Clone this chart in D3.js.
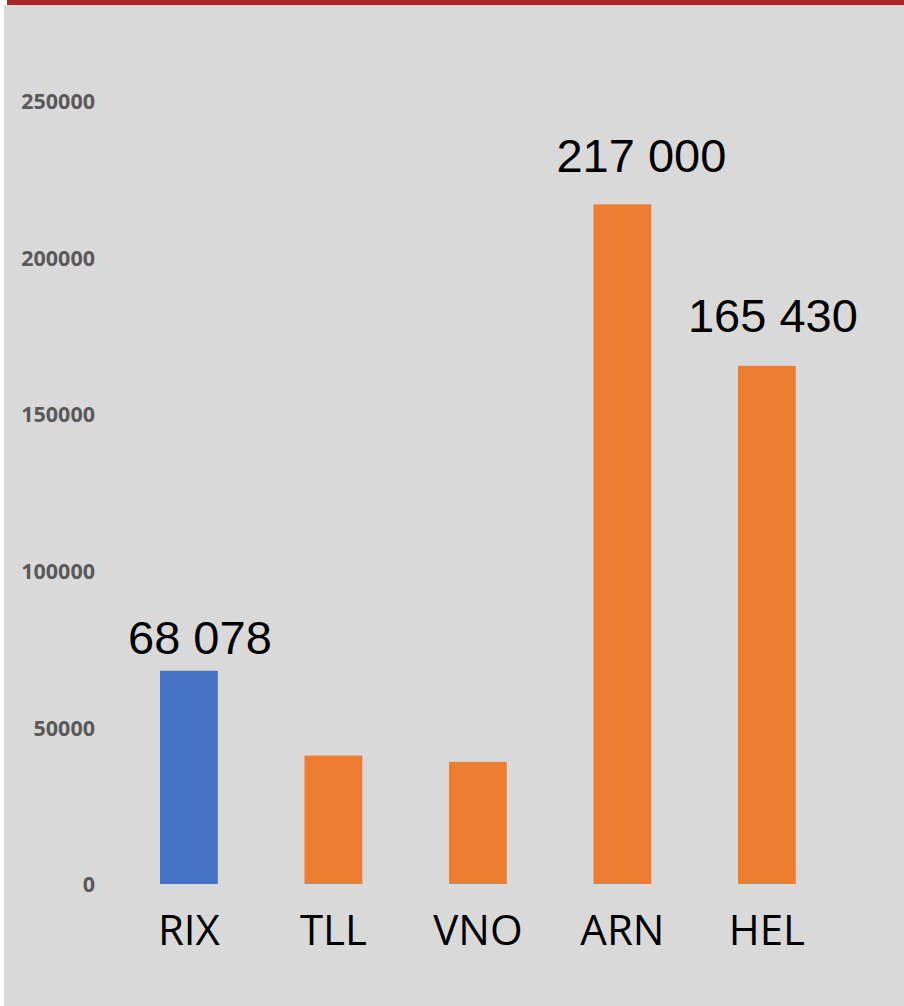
<!DOCTYPE html>
<html>
<head>
<meta charset="utf-8">
<script src="https://cdn.jsdelivr.net/npm/d3@7"></script>
<style>
  html, body { margin: 0; padding: 0; background: #ffffff; }
  svg { display: block; }
</style>
</head>
<body>
<svg id="chart" width="904" height="1006"></svg>
<script>
const categories = ["RIX", "TLL", "VNO", "ARN", "HEL"];
const values = [68078, 41000, 39000, 217000, 165430];
const valueLabels = ["68 078", "", "", "217 000", "165 430"];
const tickValues = [0, 50000, 100000, 150000, 200000, 250000];
const barColors = ["#4472c4", "#ed7d31", "#ed7d31", "#ed7d31", "#ed7d31"];

// label nudges (style/layout, not data)
const labelDx = [11, 0, 0, 19, 6];
const labelGap = [17, 0, 0, 32, 34];

const svg = d3.select("#chart");
const W = 904, H = 1006;

// background panel and top band
svg.append("rect").attr("x", 4).attr("y", 5).attr("width", W - 4).attr("height", H - 5).attr("fill", "#d9d9d9");
svg.append("rect").attr("x", 7).attr("y", 0).attr("width", W - 7).attr("height", 5).attr("fill", "#9e2a22");

const x = d3.scaleBand()
  .domain(categories)
  .range([116.65, 839.15])
  .paddingInner(0.6)
  .paddingOuter(0.3);

const y = d3.scaleLinear()
  .domain([0, 250000])
  .range([884, 101]);

// y axis (labels only)
const yAxis = d3.axisLeft(y)
  .tickValues(tickValues)
  .tickFormat(d3.format("d"))
  .tickSize(0)
  .tickPadding(0);

const yg = svg.append("g").attr("transform", "translate(95,0)").call(yAxis);
yg.select(".domain").remove();
yg.selectAll("text")
  .attr("fill", "#595959")
  .attr("font-family", "'Open Sans', sans-serif")
  .attr("font-weight", "bold")
  .attr("font-size", "21.5px")
  .attr("dy", "0.36em");

// bars
svg.append("g").selectAll("rect")
  .data(categories)
  .join("rect")
  .attr("x", d => x(d))
  .attr("width", x.bandwidth())
  .attr("y", (d, i) => y(values[i]))
  .attr("height", (d, i) => y(0) - y(values[i]))
  .attr("fill", (d, i) => barColors[i]);

// value labels
svg.append("g").selectAll("text")
  .data(categories)
  .join("text")
  .attr("x", (d, i) => x(d) + x.bandwidth() / 2 + labelDx[i])
  .attr("y", (d, i) => y(values[i]) - labelGap[i])
  .attr("text-anchor", "middle")
  .attr("font-family", "'Liberation Sans', Arial, sans-serif")
  .attr("font-size", "47px")
  .attr("fill", "#000")
  .text((d, i) => valueLabels[i]);

// x axis (category labels only)
const xAxis = d3.axisBottom(x).tickSize(0).tickPadding(0);
const xg = svg.append("g").attr("transform", "translate(0,945)").call(xAxis);
xg.select(".domain").remove();
xg.selectAll("text")
  .attr("fill", "#000")
  .attr("font-family", "'Open Sans', sans-serif")
  .attr("font-size", "42px")
  .attr("dy", "0");
</script>
</body>
</html>
